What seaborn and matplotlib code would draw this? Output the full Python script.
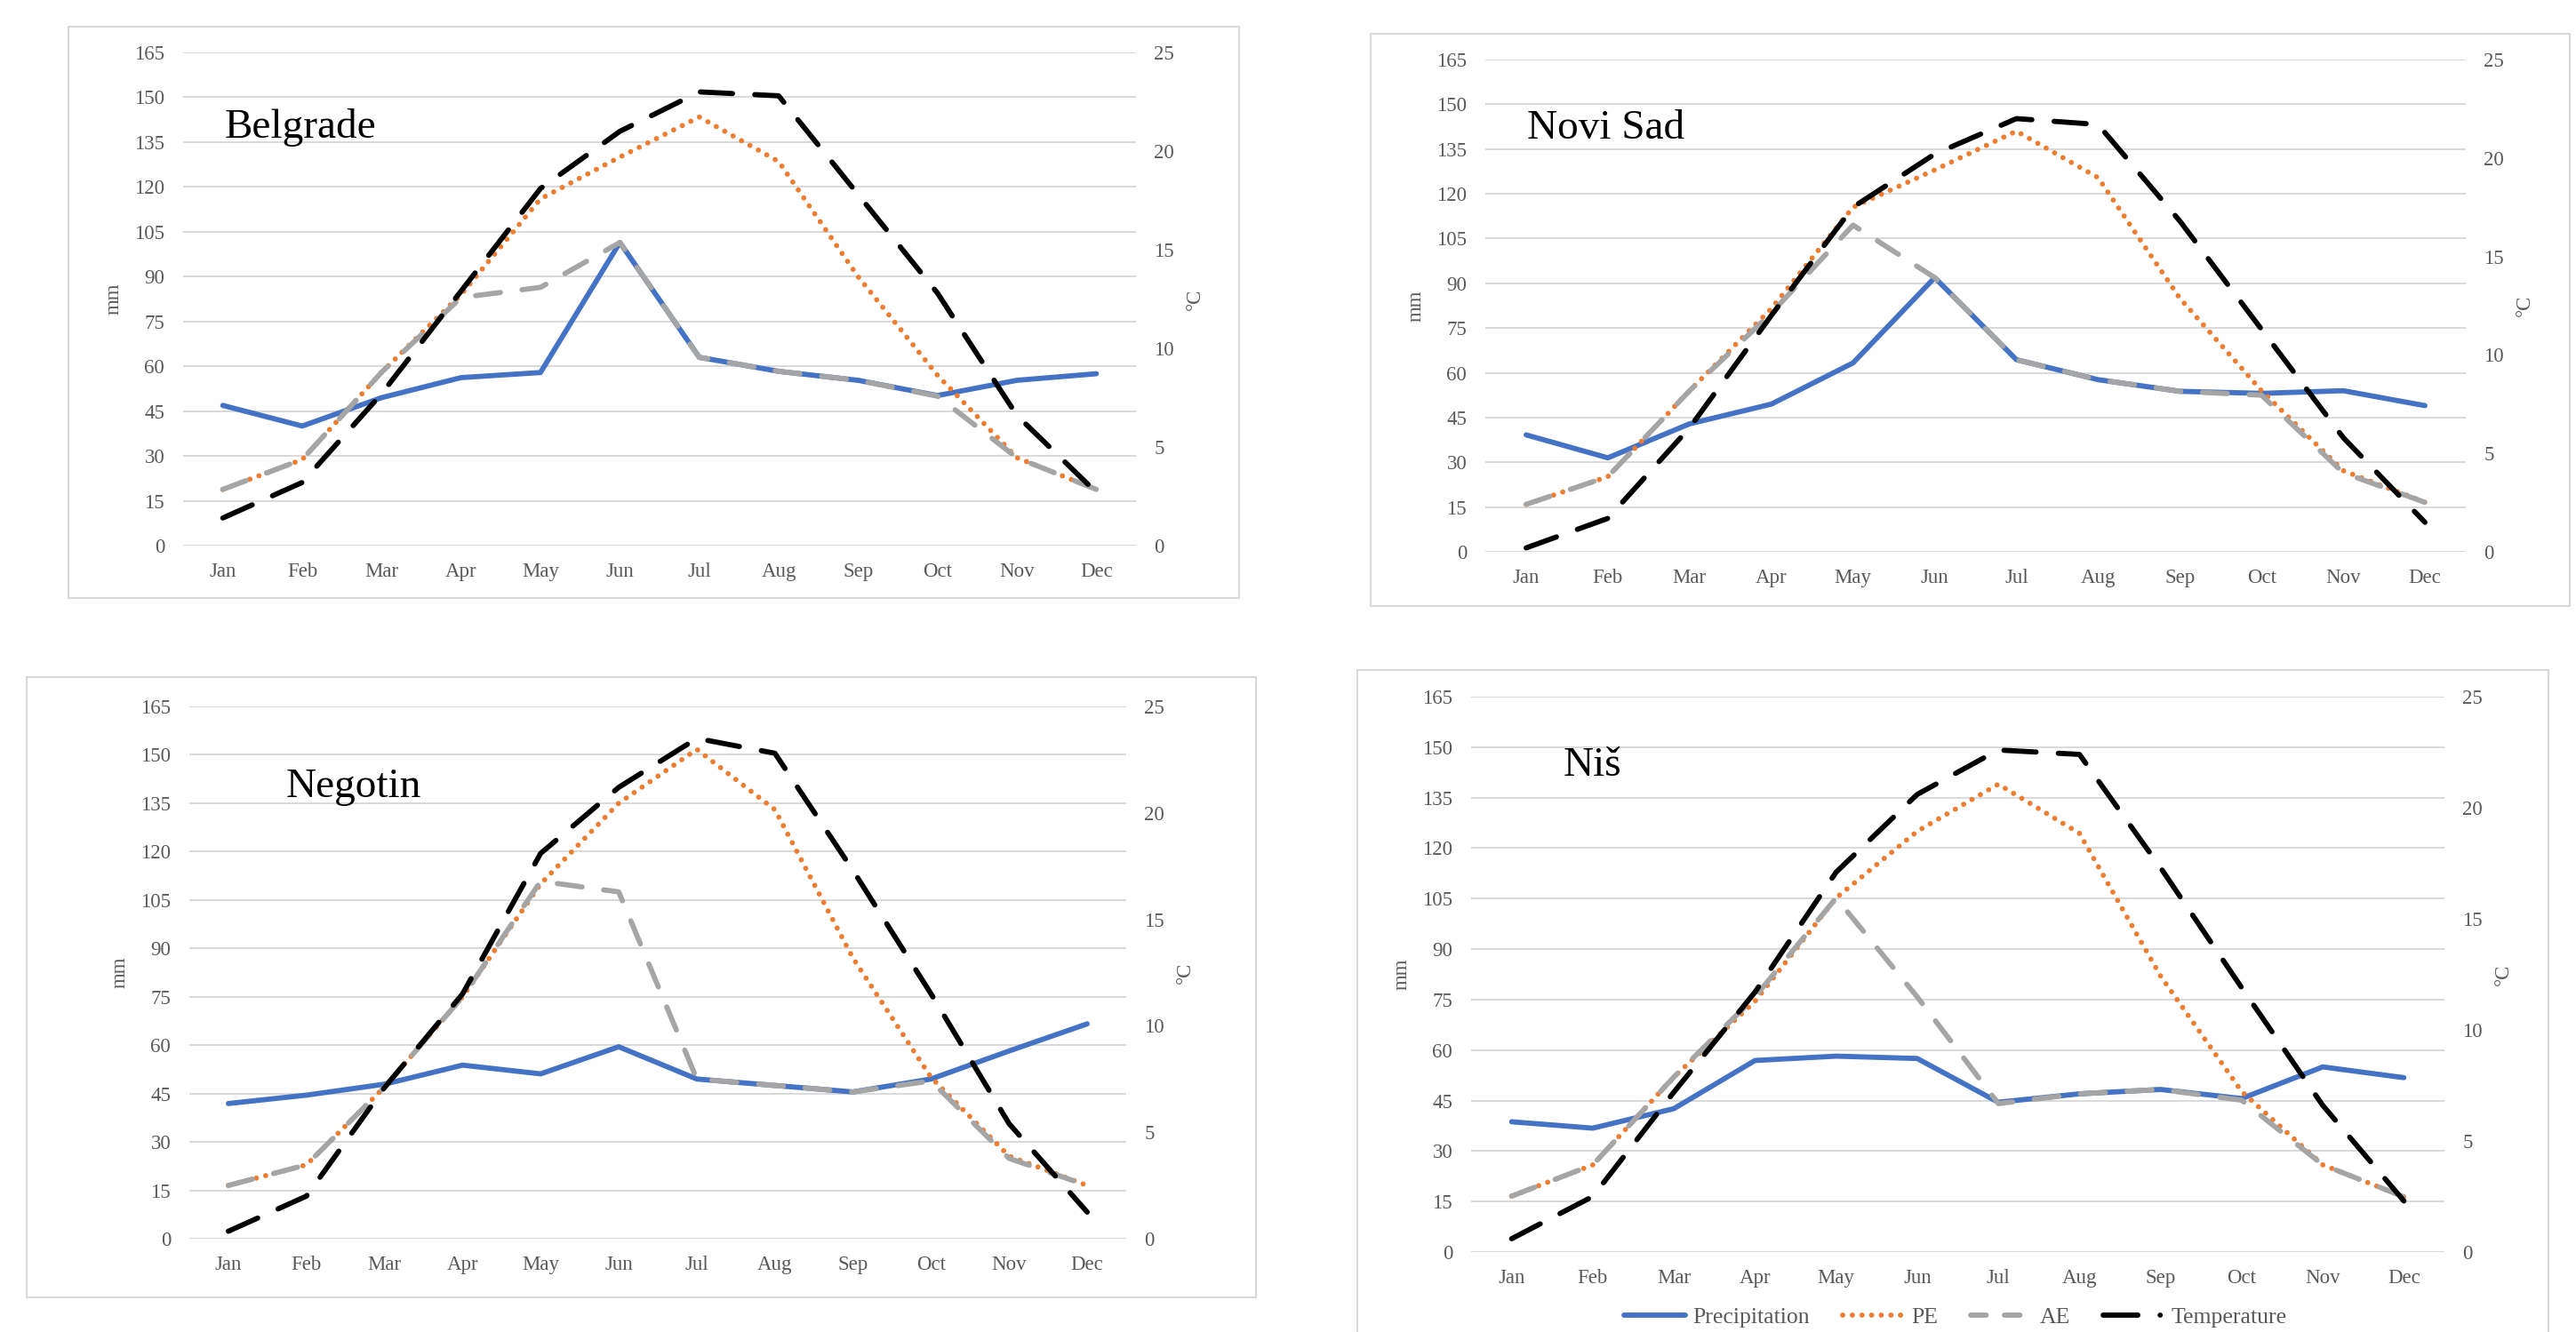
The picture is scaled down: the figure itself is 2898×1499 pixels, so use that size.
import matplotlib.pyplot as plt
import seaborn as sns
from matplotlib.lines import Line2D
from matplotlib.patches import Rectangle

# Data
months = ['Jan', 'Feb', 'Mar', 'Apr', 'May', 'Jun',
          'Jul', 'Aug', 'Sep', 'Oct', 'Nov', 'Dec']
x = list(range(12))
mm_ticks = list(range(0, 166, 15))
c_ticks = list(range(0, 26, 5))

# Belgrade
bel_prec = [46.9, 40.0, 49.5, 56.2, 57.9, 101.4, 63.0, 58.3, 55.3, 50.2, 55.3, 57.5]
bel_pe = [18.8, 28.8, 58, 84, 116, 130, 143.4, 128.5, 90, 57, 29.4, 18.8]
bel_ae = [18.8, 28.8, 58, 83, 86.4, 101.4, 63.0, 58.3, 55.3, 50.0, 29.4, 18.8]
bel_temp = [1.4, 3.2, 7.7, 12.9, 18.1, 21.0, 23.0, 22.8, 17.8, 12.8, 6.6, 2.7]

# Novi Sad
ns_prec = [39.2, 31.5, 42.9, 49.5, 63.3, 91.9, 64.4, 57.7, 53.8, 53.1, 54.0, 49.0]
ns_pe = [15.9, 25.2, 54, 81.5, 115.5, 128, 141, 125.4, 85, 54, 27.2, 16.6]
ns_ae = [15.9, 25.2, 54, 80, 109.5, 91.9, 64.4, 57.7, 53.8, 52.5, 26.5, 16.6]
ns_temp = [0.2, 1.7, 6.3, 12.0, 17.5, 20.2, 22.0, 21.7, 16.8, 11.3, 5.8, 1.5]

# Negotin
neg_prec = [41.9, 44.5, 47.9, 53.8, 51.1, 59.5, 49.5, 47.5, 45.5, 49.5, 58.2, 66.6]
neg_pe = [16.5, 22.9, 47, 75, 110, 135, 151.7, 133, 87, 50, 25.6, 16.5]
neg_ae = [16.5, 22.9, 47, 75, 110.8, 107.5, 49.5, 47.5, 45.5, 48.9, 24.9, 16.5]
neg_temp = [0.35, 2.0, 7.1, 11.5, 18.1, 21.2, 23.5, 22.8, 17.3, 11.5, 5.4, 1.25]

# Nis
nis_prec = [38.7, 36.8, 42.6, 56.9, 58.2, 57.5, 44.5, 47.0, 48.3, 45.6, 55.0, 51.8]
nis_pe = [16.6, 25.9, 52, 74.5, 105.2, 125, 139, 124.4, 82, 47.7, 25.9, 16.4]
nis_ae = [16.6, 25.9, 52, 75.8, 105.2, 75.8, 44.1, 47.0, 48.3, 45.1, 25.9, 16.4]
nis_temp = [0.6, 2.5, 7.2, 11.7, 17.1, 20.6, 22.6, 22.4, 17.3, 11.9, 6.6, 2.3]

# Styles
BLUE = '#4472C4'
ORANGE = '#ED7D31'
GRAY = '#A5A5A5'
TICK = '#595959'
GRID = '#D9D9D9'
FS = 16.5
LW = 4.2

PE_STYLE = (0, (0.01, 1.85))
AE_STYLE = (0, (4.8, 4.2))
T_STYLE = (0, (6.2, 4.3))

sns.set_theme(style='white')
plt.rcParams['font.family'] = ['Liberation Serif', 'DejaVu Serif']

W, H = 2898, 1499
fig = plt.figure(figsize=(W / 100, H / 100), dpi=100)


def box(l, t, r, b):
    '''Pixel box (top-left origin) to figure fractions.'''
    return [l / W, 1 - b / H, (r - l) / W, (b - t) / H]


panels = [
    ('Belgrade', bel_prec, bel_pe, bel_ae, bel_temp,
     (206, 59, 1278, 614), (77, 30, 1394, 673), (253, 155)),
    ('Novi Sad', ns_prec, ns_pe, ns_ae, ns_temp,
     (1671, 67, 2774, 621), (1542, 38, 2891, 682), (1718, 156)),
    ('Negotin', neg_prec, neg_pe, neg_ae, neg_temp,
     (213, 795, 1267, 1394), (30, 762, 1413, 1460), (322, 897)),
    ('Niš', nis_prec, nis_pe, nis_ae, nis_temp,
     (1655, 784, 2750, 1409), (1527, 754, 2867, 1520), (1759, 873)),
]

for name, prec, pe, ae, temp, plot, frame, title in panels:
    # frame round each chart
    fl, ft, fr, fb = frame
    fig.add_artist(Rectangle((fl / W, 1 - fb / H), (fr - fl) / W, (fb - ft) / H,
                             transform=fig.transFigure, fill=False,
                             edgecolor=GRID, linewidth=1.5))

    ax = fig.add_axes(box(*plot))
    ax2 = ax.twinx()

    sns.lineplot(x=x, y=prec, ax=ax, color=BLUE, linewidth=LW,
                 solid_capstyle='round', solid_joinstyle='round', zorder=3)
    sns.lineplot(x=x, y=pe, ax=ax, color=ORANGE, linewidth=LW,
                 linestyle=PE_STYLE, dash_capstyle='round', zorder=4)
    sns.lineplot(x=x, y=ae, ax=ax, color=GRAY, linewidth=LW,
                 linestyle=AE_STYLE, dash_capstyle='round', zorder=5)
    sns.lineplot(x=x, y=temp, ax=ax2, color='black', linewidth=LW,
                 linestyle=T_STYLE, dash_capstyle='round', zorder=6)

    ax.set_xlim(-0.5, 11.5)
    ax.set_ylim(0, 165)
    ax2.set_ylim(0, 25)
    ax.set_xticks(x)
    ax.set_xticklabels(months)
    ax.set_yticks(mm_ticks)
    ax2.set_yticks(c_ticks)

    ax.grid(axis='y', color=GRID, linewidth=1.4)
    ax.grid(axis='x', visible=False)
    ax2.grid(False)
    ax.set_axisbelow(True)
    for a in (ax, ax2):
        for s in a.spines.values():
            s.set_visible(False)
    ax.tick_params(axis='x', length=0, labelsize=FS, labelcolor=TICK, pad=14)
    ax.tick_params(axis='y', length=0, labelsize=FS, labelcolor=TICK, pad=15)
    ax2.tick_params(axis='y', length=0, labelsize=FS, labelcolor=TICK, pad=14.5)

    pw = plot[2] - plot[0]
    ax.set_ylabel('mm', fontsize=FS, color=TICK, rotation=90,
                  va='center', ha='center')
    ax.yaxis.set_label_coords(-78 / pw, 0.5)
    ax2.set_ylabel('°C', fontsize=FS, color=TICK, rotation=90,
                   va='center', ha='center')
    ax2.yaxis.set_label_coords(1 + 66 / pw, 0.5)

    fig.text(title[0] / W, 1 - title[1] / H, name, fontsize=34,
             color='black', ha='left', va='baseline')

# Legend
handles = [
    Line2D([], [], color=BLUE, linewidth=LW, solid_capstyle='round'),
    Line2D([], [], color=ORANGE, linewidth=LW, linestyle=PE_STYLE,
           dash_capstyle='round'),
    Line2D([], [], color=GRAY, linewidth=LW, linestyle=(0, (3, 3.5)),
           dash_capstyle='round'),
    Line2D([], [], color='black', linewidth=LW, linestyle=(0, (6.7, 4.3, 0.01, 20)),
           dash_capstyle='round'),
]
labels = ['Precipitation', 'PE', 'AE', 'Temperature']
leg = fig.legend(handles, labels, loc='center', ncol=4,
                 bbox_to_anchor=(2200 / W, 1 - 1483 / H),
                 frameon=False, fontsize=18.5, handlelength=2.7,
                 handletextpad=0.3, columnspacing=1.45, borderpad=0)
for t in leg.get_texts():
    t.set_color(TICK)

fig.savefig('out.png', dpi=100)
